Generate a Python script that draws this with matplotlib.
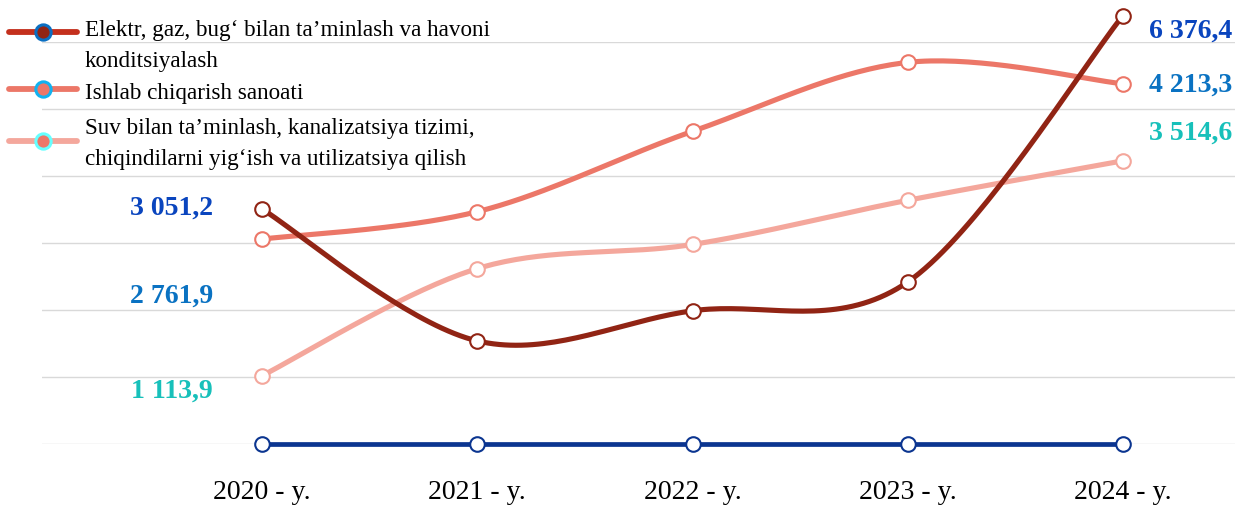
import numpy as np
import matplotlib
matplotlib.use("Agg")
import matplotlib.pyplot as plt
from matplotlib.lines import Line2D

# ---- data ----
years = ["2020 - y.", "2021 - y.", "2022 - y.", "2023 - y.", "2024 - y."]
series_names = [
    "Elektr, gaz, bug\u2018 bilan ta\u2019minlash va havoni\nkonditsiyalash",
    "Ishlab chiqarish sanoati",
    "Suv bilan ta\u2019minlash, kanalizatsiya tizimi,\nchiqindilarni yig\u2018ish va utilizatsiya qilish",
]
# plotted heights (hidden axis)
elektr = [3.51, 1.54, 1.99, 2.42, 6.40]
ishlab = [3.06, 3.47, 4.67, 5.70, 5.38]
suv = [1.02, 2.62, 2.98, 3.64, 4.23]
base = [0, 0, 0, 0, 0]
# printed labels
left_labels = ["3 051,2", "2 761,9", "1 113,9"]
right_labels = ["6 376,4", "4 213,3", "3 514,6"]

line_colors = ["#912414", "#EC7768", "#F4A79C"]
label_colors = ["#0A45BE", "#0A72C2", "#17C0BA"]
blue = "#0B3590"

serif = ["Liberation Serif", "DejaVu Serif"]


def smooth(xs, ys, n=40):
    xs = np.asarray(xs, float)
    ys = np.asarray(ys, float)
    P = np.column_stack([xs, ys])
    Pp = np.vstack([P[0], P, P[-1]])
    out = []
    for i in range(len(P) - 1):
        p0, p1, p2, p3 = Pp[i], Pp[i + 1], Pp[i + 2], Pp[i + 3]
        c1 = p1 + (p2 - p0) / 6.0
        c2 = p2 - (p3 - p1) / 6.0
        t = np.linspace(0, 1, n)[:, None]
        seg = ((1 - t) ** 3) * p1 + 3 * ((1 - t) ** 2) * t * c1 + 3 * (1 - t) * t ** 2 * c2 + t ** 3 * p2
        out.append(seg if i == 0 else seg[1:])
    out = np.vstack(out)
    return out[:, 0], out[:, 1]


W, H = 1235, 506
fig = plt.figure(figsize=(W / 100, H / 100), dpi=100)
left = 42 / W
bottom = (H - 445) / H
top = (H - 43.3) / H
ax = fig.add_axes([left, bottom, 1 - left, top - bottom])
x = np.arange(len(years))
x0px, dx = 262.0, 215.25
ax.set_xlim((42 - x0px) / dx, (W - x0px) / dx)
ax.set_ylim(0, 6)
for s in ax.spines.values():
    s.set_visible(False)
ax.set_yticks(np.arange(0, 7, 1))
ax.yaxis.grid(True, color="#D9D9D9", linewidth=1.0)
ax.tick_params(axis="y", left=False, labelleft=False)
ax.tick_params(axis="x", bottom=False, pad=22)
ax.set_xticks(x)
ax.set_xticklabels(years, fontfamily=serif, fontsize=20)
ax.set_axisbelow(True)

# blue base line
ax.plot(x, base, color=blue, lw=3.4, marker="o", ms=10.5, mfc="white", mec=blue, mew=1.5,
        clip_on=False, zorder=3)

for vals, c in [(suv, line_colors[2]), (ishlab, line_colors[1]), (elektr, line_colors[0])]:
    sx, sy = smooth(x, vals)
    ax.plot(sx, sy, color=c, lw=3.7, solid_capstyle="round", clip_on=False, zorder=4)
    ax.plot(x, vals, ls="none", marker="o", ms=10.5, mfc="white", mec=c, mew=1.5,
            clip_on=False, zorder=5)


def fx(px):
    return px / W


def fy(py):
    return 1 - py / H


# value labels
for (py, s, c) in zip([208, 296, 391], left_labels, label_colors):
    fig.text(fx(172), fy(py), s, color=c, fontfamily=serif, fontsize=20,
             fontweight="bold", ha="center", va="center")
for (py, s, c) in zip([31, 85, 133], right_labels, label_colors):
    fig.text(fx(1191), fy(py), s, color=c, fontfamily=serif, fontsize=20,
             fontweight="bold", ha="center", va="center")

# legend (drawn manually for exact spacing)
leg_marker_fc = ["#912414", "#EC7768", "#EC7768"]
leg_marker_ec = ["#0A6FC2", "#11B2F0", "#66FFFF"]
leg_line_c = ["#C4301D", "#EC7768", "#F4A79C"]
handle_y = [33, 90, 142]
text_y = [46, 93, 144]
for i in range(3):
    fig.add_artist(Line2D([fx(9), fx(77)], [fy(handle_y[i])] * 2, transform=fig.transFigure,
                          color=leg_line_c[i], lw=4.2, solid_capstyle="round"))
    fig.add_artist(Line2D([fx(43)], [fy(handle_y[i])], transform=fig.transFigure,
                          ls="none", marker="o", ms=11, mfc=leg_marker_fc[i],
                          mec=leg_marker_ec[i], mew=2.2))
    fig.text(fx(85), fy(text_y[i]), series_names[i], fontfamily=serif, fontsize=16.7,
             ha="left", va="center", linespacing=1.64,
             transform=fig.transFigure)

fig.savefig("out.png", dpi=100)
